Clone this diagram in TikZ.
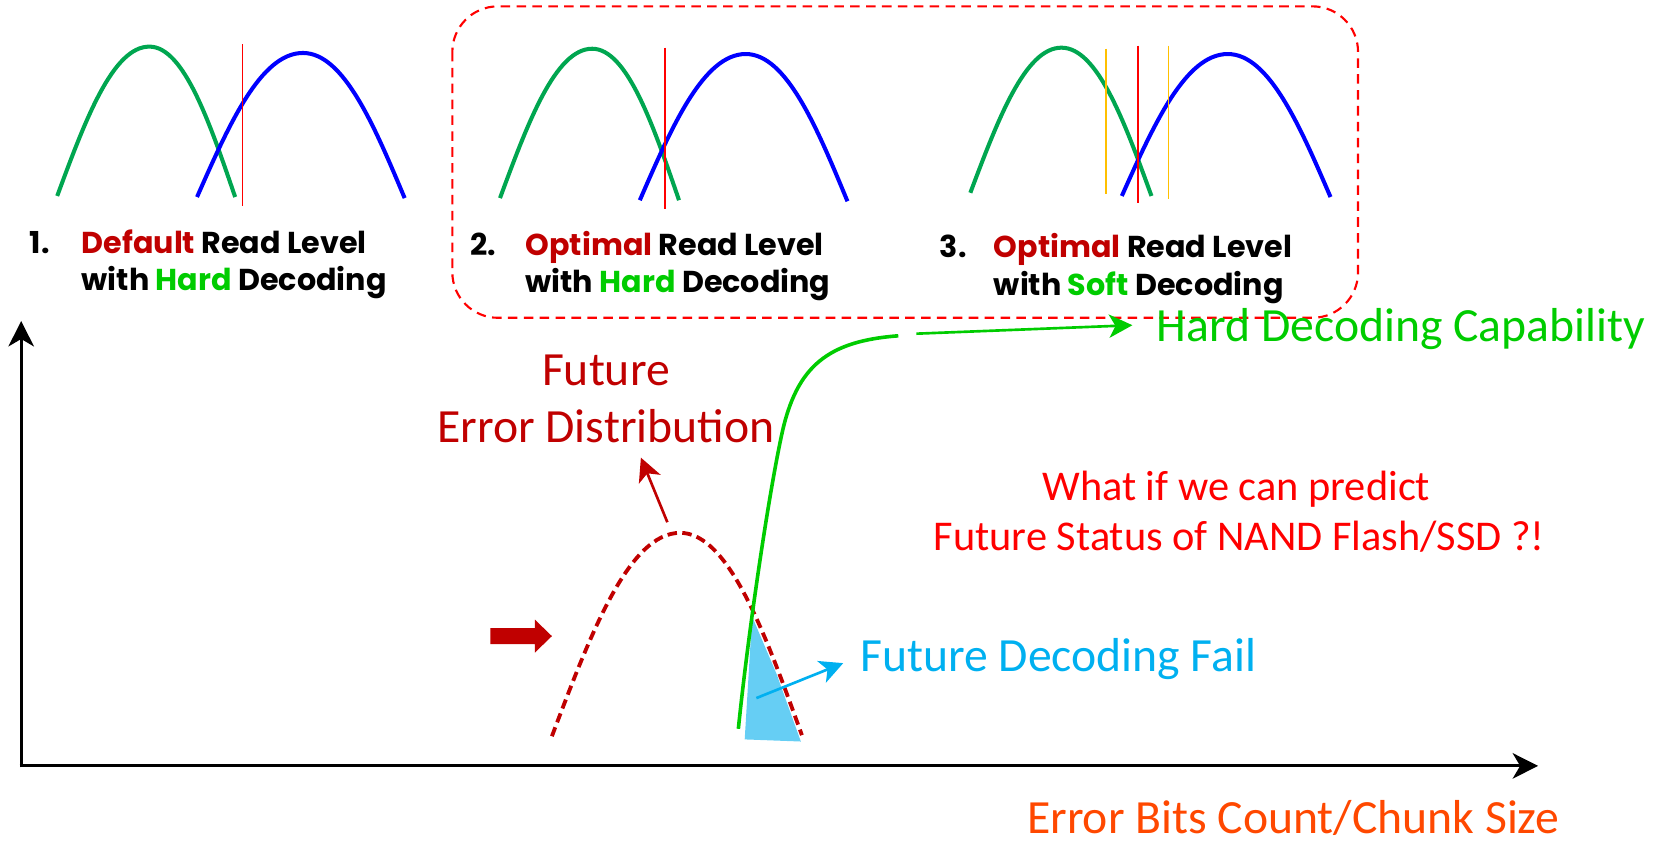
\documentclass[tikz,border=0pt]{standalone}
\usepackage{fontspec}
\setmainfont{Carlito}
\newfontfamily\gothic{Poppins}
\usetikzlibrary{arrows.meta}
\definecolor{darkred}{RGB}{192,0,0}
\definecolor{curvegreen}{RGB}{0,166,80}
\definecolor{brightgreen}{RGB}{0,204,0}
\definecolor{skyblue}{RGB}{0,176,240}
\definecolor{failfill}{RGB}{102,206,244}
\definecolor{amber}{RGB}{255,192,0}
\definecolor{axislabel}{RGB}{255,72,0}

% rounded peak: rise from (#2,#3) to the top (#4,#5), fall to (#6,#7)
\newcommand\peakcurve[7]{%
  \draw[#1] (#2,#3) .. controls ({#2+0.3*(#4-#2)},{#3+0.5*(#5-#3)}) and ({#2+0.6*(#4-#2)},#5) .. (#4,#5)
    .. controls ({#4+0.4*(#6-#4)},#5) and ({#4+0.7*(#6-#4)},{#5+0.5*(#7-#5)}) .. (#6,#7);}

\begin{document}
\begin{tikzpicture}[x=1pt,y=-1pt,
  state0/.style={curvegreen,line width=3.8},
  state1/.style={blue,line width=3.8},
  readlvl/.style={red,line width=1.5},
  softlvl/.style={amber,line width=1.5},
  caption/.style={anchor=base west,inner sep=0,font=\gothic\bfseries\fontsize{28.5}{34}\selectfont},
  label45/.style={inner sep=0,font=\fontsize{45}{54}\selectfont},
  thinarrow/.style={line width=2.5,-{Stealth[length=22,width=22,inset=6]}},
  axis/.style={line width=2.8,-{Stealth[length=24,width=24,inset=7]}}]
\useasboundingbox (0,0) rectangle (1568,797);

% read-level panels
\peakcurve{state0}{54}{185}{141}{44}{222}{186}
\peakcurve{state1}{186}{186}{286}{50}{382}{187}
\draw[readlvl] (229,42) -- (229,194);

\peakcurve{state0}{472}{187}{559}{46}{641}{189}
\peakcurve{state1}{604}{189}{704}{51}{800}{190}
\draw[readlvl] (628,45) -- (628,197);

\peakcurve{state0}{916}{182}{1002}{45}{1087}{185}
\peakcurve{state1}{1059}{185}{1159}{51}{1256}{186}
\draw[softlvl] (1044,46) -- (1044,183);
\draw[softlvl] (1103,43) -- (1103,188);
\draw[readlvl] (1074,43) -- (1074,192);

\draw[red,line width=2,dash pattern=on 9 off 6,rounded corners=43] (427,6) rectangle (1282,300);

\node[caption] (n1) at (28,239) {1.};
\node[caption] (c1a) at (77,239) {\textcolor{darkred}{Default} Read Level};
\node[caption] (c1b) at (77,274) {with \textcolor{brightgreen}{Hard} Decoding};
\node[caption] (n2) at (444,241) {2.};
\node[caption] (c2a) at (496,241) {\textcolor{darkred}{Optimal} Read Level};
\node[caption] (c2b) at (496,276) {with \textcolor{brightgreen}{Hard} Decoding};
\node[caption] (n3) at (887,243) {3.};
\node[caption] (c3a) at (938,243) {\textcolor{darkred}{Optimal} Read Level};
\node[caption] (c3b) at (938,279) {with \textcolor{brightgreen}{Soft} Decoding};

% axes
\coordinate (origin) at (20,723);
\coordinate (ytip) at (20,303);
\coordinate (xtip) at (1452,723);
\draw[axis] (20,724.4) -- (ytip);
\draw[axis] (18.6,723) -- (xtip);
\node[label45,text=axislabel,anchor=base] (xlabel) at (1221,787) {Error Bits Count/Chunk Size};

% decoding-fail tail
\fill[failfill] (710,582) -- (703,698) -- (756,700) -- (733,636) -- cycle;

% future error distribution
\peakcurve{darkred,line width=3.6,dash pattern=on 9 off 5}{521}{695}{642}{503}{757}{694}

% hard decoding capability
\draw[brightgreen,line width=3.4] (697,688) .. controls (706,600) and (725,470) .. (738,410)
  .. controls (752,345) and (782,322) .. (848,317);
\coordinate (capstart) at (865,315);
\node[label45,text=brightgreen,anchor=base west] (cap) at (1092,322) {Hard Decoding Capability};
\draw[thinarrow,brightgreen] (capstart) -- (1069,307);

% labels with pointers
\node[label45,text=darkred,anchor=base] (fut1) at (572,364) {Future};
\node[label45,text=darkred,anchor=base] (fut2) at (572,418) {Error Distribution};
\coordinate (distpeak) at (630,493);
\draw[thinarrow,darkred] (distpeak) -- (605,432);

\coordinate (failpt) at (714,659);
\draw[thinarrow,skyblue] (failpt) -- (796,626);
\node[label45,text=skyblue,anchor=base west] (fail) at (812,634) {Future Decoding Fail};

\node[inner sep=0,text=red,font=\fontsize{40}{48}\selectfont,anchor=base] (q1) at (1167,472) {What if we can predict};
\node[inner sep=0,text=red,font=\fontsize{40}{48}\selectfont,anchor=base] (q2) at (1170,520) {Future Status of NAND Flash/SSD ?!};

% shift arrow
\fill[darkred] (463,593) -- (505,593) -- (505,585) -- (521,600.5) -- (505,616) -- (505,608) -- (463,608) -- cycle;
\end{tikzpicture}
\end{document}
